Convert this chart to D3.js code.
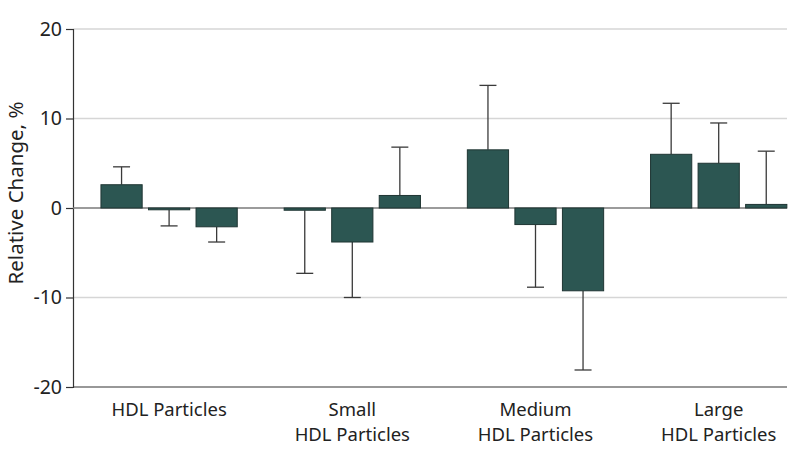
<!DOCTYPE html>
<html><head><meta charset="utf-8">
<script src="https://cdn.jsdelivr.net/npm/d3@7"></script>
<style>body{margin:0;background:#fff}svg{display:block}text{font-family:"Noto Sans",sans-serif;fill:#222}</style>
</head><body><svg id="c" width="798" height="462"></svg>
<script>
const categories = [["HDL Particles"], ["Small", "HDL Particles"], ["Medium", "HDL Particles"], ["Large", "HDL Particles"]];
const series = ["A", "B", "C"];
const values = [
  [2.6, -0.2, -2.1],
  [-0.25, -3.8, 1.4],
  [6.5, -1.85, -9.25],
  [6.0, 5.0, 0.4]
];
const errorEnds = [
  [4.6, -2.0, -3.8],
  [-7.3, -10.0, 6.8],
  [13.7, -8.85, -18.1],
  [11.7, 9.5, 6.35]
];
const yTicks = [-20, -10, 0, 10, 20];
const yLabel = "Relative Change, %";

const svg = d3.select("#c");
const axisX = 73, axisRight = 787;
const y = d3.scaleLinear().domain([-20, 20]).range([387, 29]);
const x0 = d3.scaleBand().domain(d3.range(categories.length)).range([77.5, 810.3]).paddingInner(0.256).paddingOuter(0.128);
const x1 = d3.scaleBand().domain(series).range([0, x0.bandwidth()]).paddingInner(0.133).paddingOuter(0);

// gridlines
svg.append("g").selectAll("line").data(yTicks.filter(t => t !== -20 && t !== 0)).join("line")
  .attr("x1", axisX).attr("x2", axisRight).attr("y1", d => y(d)).attr("y2", d => y(d))
  .attr("stroke", "#d6d6d6").attr("stroke-width", 1.5);

// y axis
const yAxis = svg.append("g").attr("transform", `translate(${axisX},0)`)
  .call(d3.axisLeft(y).tickValues(yTicks).tickSize(7).tickPadding(4).tickFormat(d => d < 0 ? "-" + Math.abs(d) : d));
yAxis.select(".domain").attr("stroke", "#333").attr("stroke-width", 1.2);
yAxis.selectAll(".tick line").attr("stroke", "#333").attr("stroke-width", 1.2);
yAxis.selectAll(".tick text").attr("font-size", 19.5).attr("fill", "#222").attr("font-family", '"Noto Sans",sans-serif');

// bottom axis line
svg.append("line").attr("x1", axisX).attr("x2", axisRight).attr("y1", y(-20)).attr("y2", y(-20))
  .attr("stroke", "#333").attr("stroke-width", 1.2);

// zero line
svg.append("line").attr("x1", axisX).attr("x2", axisRight).attr("y1", y(0)).attr("y2", y(0))
  .attr("stroke", "#7a7a7a").attr("stroke-width", 1.5);

// bars & error bars
const groups = svg.append("g").selectAll("g").data(values).join("g")
  .attr("transform", (d, i) => `translate(${x0(i)},0)`);
groups.each(function(row, gi) {
  const g = d3.select(this);
  row.forEach((v, si) => {
    const bx = x1(series[si]), bw = x1.bandwidth(), cx = bx + bw / 2;
    const e = errorEnds[gi][si];
    const edge = y(v);
    g.append("line").attr("x1", cx).attr("x2", cx).attr("y1", edge).attr("y2", y(e))
      .attr("stroke", "#3a3a3a").attr("stroke-width", 1.3);
    g.append("line").attr("x1", cx - 8.5).attr("x2", cx + 8.5).attr("y1", y(e)).attr("y2", y(e))
      .attr("stroke", "#3a3a3a").attr("stroke-width", 1.3);
    g.append("rect").attr("x", bx).attr("width", bw)
      .attr("y", Math.min(y(v), y(0))).attr("height", Math.max(1.5, Math.abs(y(v) - y(0))))
      .attr("fill", "#2c5652").attr("stroke", "#1f3533").attr("stroke-width", 1);
  });
});

// category labels
svg.append("g").selectAll("text").data(categories).join("text")
  .attr("x", (d, i) => x0(i) + x0.bandwidth() / 2).attr("y", 416)
  .attr("text-anchor", "middle").attr("font-size", 18.5)
  .each(function(lines) {
    const t = d3.select(this);
    lines.forEach((l, k) => t.append("tspan").attr("x", t.attr("x")).attr("y", 416 + k * 25).text(l));
  });

// y label
svg.append("text").attr("transform", `translate(23,193) rotate(-90)`)
  .attr("text-anchor", "middle").attr("font-size", 20.5).text(yLabel);
</script></body></html>
